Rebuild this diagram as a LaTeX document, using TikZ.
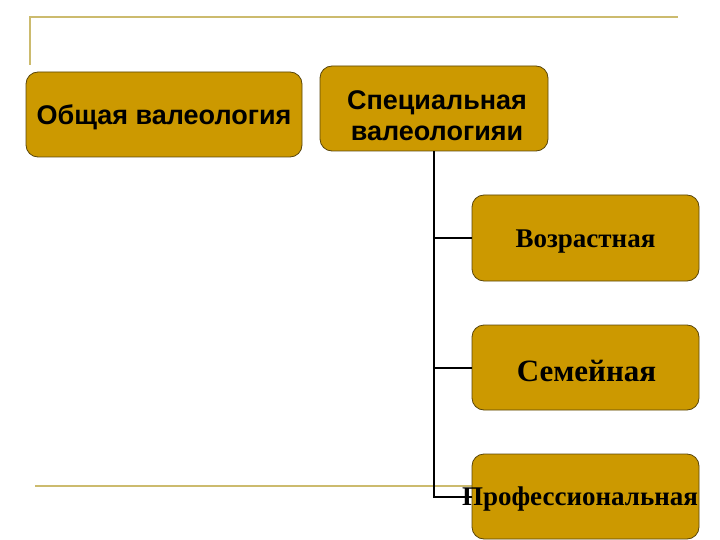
\documentclass[tikz,border=0pt]{standalone}
\usepackage{fontspec}
\setmainfont{Liberation Serif}
\setsansfont{Liberation Sans}
\definecolor{boxfill}{RGB}{204,153,0}
\definecolor{boxline}{RGB}{90,70,10}
\definecolor{decor}{RGB}{204,187,110}
\begin{document}
\begin{tikzpicture}[x=1pt,y=-1pt,
  gbox/.style={draw=boxline, line width=0.8pt, fill=boxfill, rounded corners=12pt, inner sep=0pt},
  link/.style={line width=2pt, black},
  deco/.style={line width=2pt, decor},
  sanst/.style={font=\sffamily\bfseries\fontsize{27}{31}\selectfont, align=center, inner sep=0pt},
  serift/.style={font=\rmfamily\bfseries\fontsize{27}{30}\selectfont, inner sep=0pt}]
\useasboundingbox (0,0) rectangle (720,540);
% decorative frame lines
\coordinate (d1) at (30,65);
\coordinate (d2) at (30,17);
\coordinate (d3) at (678,17);
\coordinate (d4) at (35,486);
\coordinate (d5) at (480,486);
\draw[deco] (d1) -- (d2) -- (d3);
\draw[deco] (d4) -- (d5);
% boxes
\node[gbox, minimum width=276pt, minimum height=85pt] (b1) at (164,114.5) {};
\node[gbox, minimum width=228pt, minimum height=85pt] (b2) at (434,108.5) {};
\node[gbox, minimum width=227pt, minimum height=86pt] (b3) at (585.5,238) {};
\node[gbox, minimum width=227pt, minimum height=85pt] (b4) at (585.5,367.5) {};
\node[gbox, minimum width=227pt, minimum height=85pt] (b5) at (585.5,496.5) {};
% connectors
\draw[link] (b2.south) |- (b5.west);
\draw[link] (b2.south |- b3.west) -- (b3.west);
\draw[link] (b2.south |- b4.west) -- (b4.west);
% texts
\node[sanst] (t1) at (164,117) {Общая валеология};
\node[sanst] (t2) at (437,116) {Специальная\\валеологияи};
\node[serift] (t3) at (585.5,242) {Возрастная};
\node[serift, font=\rmfamily\bfseries\fontsize{31}{34}\selectfont] (t4) at (586.5,371) {Семейная};
\node[serift] (t5) at (580,499) {Профессиональная};
\end{tikzpicture}
\end{document}
